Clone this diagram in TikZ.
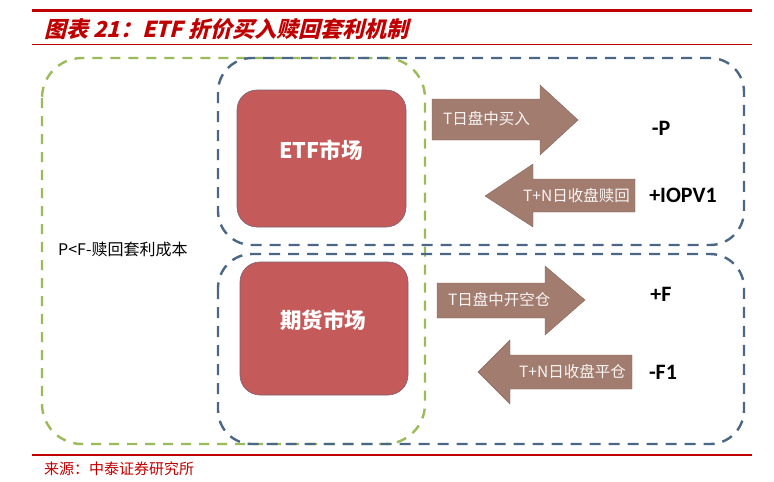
\documentclass[tikz,border=0pt]{standalone}
\usepackage{fontspec}
\setmainfont{Noto Sans CJK SC}
\newfontfamily\cjk{Noto Sans CJK SC}
\newfontfamily\titlefont[FakeSlant=0.25]{Noto Sans CJK SC}
\newfontfamily\latinb{Carlito}
\definecolor{rulered}{HTML}{C00000}
\definecolor{grn}{HTML}{9BBB59}
\definecolor{blu}{HTML}{4A6785}
\definecolor{boxred}{HTML}{C55A5A}
\definecolor{arrbrown}{HTML}{A27C6E}
\begin{document}
\begin{tikzpicture}[x=1pt,y=-1pt,
  greendash/.style={draw=grn,line width=2.4pt,dash pattern=on 10pt off 8pt,rounded corners=40pt},
  bluedash/.style={draw=blu,line width=2.4pt,dash pattern=on 11pt off 8pt,rounded corners=34pt},
  mkt/.style={draw=blu!60!boxred,line width=0.6pt,fill=boxred,rounded corners=20pt},
  arr/.style={fill=arrbrown,draw=arrbrown!80!black,line width=0.4pt},
  arrtxt/.style={text=white!92!arrbrown,font=\cjk\fontsize{15.5}{15.5}\selectfont,inner sep=0pt},
  val/.style={font=\latinb\bfseries\fontsize{22}{22}\selectfont,inner sep=0pt},
  mkttxt/.style={text=white,font=\cjk\bfseries\fontsize{21.5}{21.5}\selectfont,inner sep=0pt}]
\useasboundingbox (0,0) rectangle (774,482);
\fill[white] (0,0) rectangle (774,482);
% header and footer rules
\draw[rulered,line width=3pt] (32,10) -- (752,10);
\node[anchor=west,text=rulered,font=\titlefont\bfseries\fontsize{22}{22}\selectfont,inner sep=0pt] (title) at (44,29) {图表 21：ETF 折价买入赎回套利机制};
\draw[rulered,line width=0.8pt] (32,44.5) -- (752,44.5);
\draw[rulered,line width=2pt] (32,455) -- (752,455);
\node[anchor=west,text=rulered,font=\cjk\fontsize{15}{15}\selectfont,inner sep=0pt] (src) at (44,469) {来源：中泰证券研究所};
% dashed frames
\draw[greendash] (42,58) rectangle (425,444);
\draw[bluedash] (218,58) rectangle (744,245);
\draw[bluedash] (218,254) rectangle (744,444);
% market boxes
\path[mkt] (237,90) rectangle (406,227);
\node[mkttxt] (etf) at (321,150) {ETF市场};
\path[mkt] (240,262) rectangle (408,395);
\node[mkttxt] (fut) at (323,320) {期货市场};
% arrows
\path[arr] (432,99) -- (540,99) -- (540,85) -- (578,120) -- (540,155) -- (540,140) -- (432,140) -- cycle;
\node[arrtxt,anchor=west] (a1) at (443,119) {T日盘中买入};
\path[arr] (635,179) -- (533,179) -- (533,164) -- (485,196) -- (533,227) -- (533,212) -- (635,212) -- cycle;
\node[arrtxt,anchor=east] (a2) at (630,196) {T+N日收盘赎回};
\path[arr] (437,283) -- (545,283) -- (545,266) -- (585,300) -- (545,335) -- (545,318) -- (437,318) -- cycle;
\node[arrtxt,anchor=west] (a3) at (448,300) {T日盘中开空仓};
\path[arr] (632,355) -- (510,355) -- (510,340) -- (478,372) -- (510,404) -- (510,389) -- (632,389) -- cycle;
\node[arrtxt,anchor=east] (a4) at (626,372) {T+N日收盘平仓};
% values
\node[val] (vP) at (661,128) {-P};
\node[val] (vI) at (683,195) {+IOPV1};
\node[val] (vF) at (661,294) {+F};
\node[val] (vF1) at (663,372) {-F1};
\node[anchor=west,font=\cjk\fontsize{16}{16}\selectfont,inner sep=0pt] (cost) at (58,249) {P<F-赎回套利成本};
\end{tikzpicture}
\end{document}
